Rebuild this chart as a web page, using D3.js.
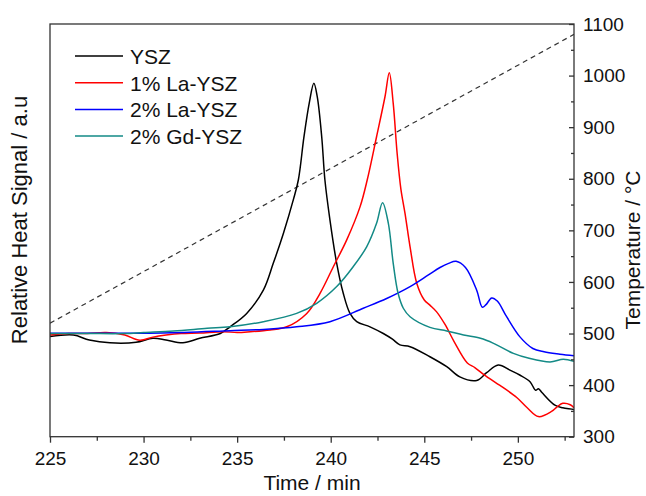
<!DOCTYPE html>
<html>
<head>
<meta charset="utf-8">
<script src="https://cdn.jsdelivr.net/npm/d3@7"></script>
<style>
  body { margin: 0; background: #fff; }
  svg { display: block; font-family: "Liberation Sans", Arial, sans-serif; }
</style>
</head>
<body>
<svg id="chart" width="646" height="496"></svg>
<script>
// DSC traces (heat signal in a.u., drawn on the same range as temperature)
const yszTime = [225, 226.25, 227.1, 228.2, 229.6, 230.5, 231.2, 232.1, 233.0, 234.1, 234.62, 235.51, 236.4, 236.93, 237.47, 238.0, 238.27, 238.57, 238.85, 239.1, 239.28, 239.52, 239.69, 239.96, 240.32, 240.67, 241.03, 241.39, 242.1, 242.81, 243.3, 243.7, 244.24, 245.3, 246.2, 246.9, 247.8, 248.33, 248.95, 249.58, 250.1, 250.65, 250.95, 251.1, 251.3, 251.98, 252.4, 252.96, 253];
const yszHeat = [494, 497, 487.5, 482, 483, 490.7, 487.5, 482, 490.7, 500, 513, 539, 584, 636, 694, 759, 797.6, 881, 946, 985, 959, 881, 797.6, 720, 636, 578, 539, 523, 513, 500, 489, 478, 474.5, 455, 435.7, 416, 409, 424, 439, 429, 419.6, 406.6, 390, 393, 385, 361, 356, 353, 352];

const la1Time = [225, 226, 227, 228, 229, 229.8, 230.5, 231.2, 232, 233, 234.25, 235, 235.7, 236.76, 237.65, 238.72, 239.43, 240.14, 240.85, 241.57, 241.95, 242.45, 242.9, 243.13, 243.34, 243.55, 243.75, 243.97, 244.24, 244.6, 245.0, 245.3, 245.66, 246.1, 246.6, 247.3, 247.7, 248.2, 249.1, 249.94, 250.5, 251.1, 251.8, 252.1, 252.4, 252.8, 253];
const la1Heat = [497, 500, 500, 502, 497, 487, 493, 497, 500, 501, 503.5, 502, 503.5, 507, 513, 539, 578, 629.5, 681, 746, 797.6, 881.5, 959, 1005.5, 946, 849, 780, 733, 668, 597, 565, 555, 542, 518, 484, 443, 434, 420, 398, 376, 356, 339, 349, 358, 364.7, 362, 356];

const la2Time = [225, 228, 231, 234.62, 236.4, 238.18, 239.96, 241.74, 242.99, 244.24, 245.2, 245.84, 246.3, 246.7, 247.2, 247.8, 248.1, 248.3, 248.6, 248.9, 249.4, 250.1, 250.8, 251.4, 252.25, 253];
const la2Heat = [500.6, 500.6, 501, 505.5, 508, 513, 523, 549, 568, 591, 613, 628, 636, 640, 628, 584, 551, 556, 569, 563, 532.6, 494, 471, 464.5, 460, 457];

const gd2Time = [225, 227, 229, 230, 231.6, 233.4, 234.62, 236.4, 238.18, 239.25, 240.32, 241.2, 241.92, 242.45, 242.77, 243.08, 243.34, 243.6, 243.88, 244.24, 245.3, 246.2, 247.1, 248.0, 248.7, 249.76, 250.6, 251.72, 252.43, 253];
const gd2Heat = [500, 500, 500, 502, 505, 510, 513, 523, 539, 558.6, 591, 629.5, 668, 713.6, 753.6, 713.6, 636, 578, 549, 532.6, 512, 505, 497, 490.7, 481, 461.6, 452, 445, 450, 446];

// furnace temperature ramp (dashed)
const rampTime = [225, 253];
const rampTemp = [520, 1080];

const seriesNames = ["YSZ", "1% La-YSZ", "2% La-YSZ", "2% Gd-YSZ"];
const seriesColors = ["#000000", "#ff0000", "#0000ff", "#138a86"];
const seriesTimes = [yszTime, la1Time, la2Time, gd2Time];
const seriesHeats = [yszHeat, la1Heat, la2Heat, gd2Heat];

const xMajorTicks = [225, 230, 235, 240, 245, 250];
const tempTicks = [300, 400, 500, 600, 700, 800, 900, 1000, 1100];

// layout
const margin = {top: 24, right: 72, bottom: 59.3, left: 50};
const width = 646 - margin.left - margin.right;
const height = 496 - margin.top - margin.bottom;

const svg = d3.select("#chart");
const g = svg.append("g").attr("transform", `translate(${margin.left},${margin.top})`);

const x = d3.scaleLinear().domain([225, 253]).range([0, width]);
const yTemp = d3.scaleLinear().domain([300, 1100]).range([height, 0]);
const yHeat = d3.scaleLinear().domain([300, 1100]).range([height, 0]);

const axisColor = "#333";

// clip to plot area
svg.append("defs").append("clipPath").attr("id", "clip")
    .append("rect").attr("width", width).attr("height", height);

const plot = g.append("g").attr("clip-path", "url(#clip)");

// temperature ramp
plot.append("path")
    .datum(rampTime.map((t, i) => [t, rampTemp[i]]))
    .attr("d", d3.line().x(d => x(d[0])).y(d => yTemp(d[1])))
    .style("fill", "none")
    .style("stroke", "#333")
    .style("stroke-width", 1.2)
    .style("stroke-dasharray", "5,4");

// heat traces
const heatLine = d3.line()
    .x(d => x(d[0]))
    .y(d => yHeat(d[1]))
    .curve(d3.curveCatmullRom.alpha(0.5));

seriesNames.forEach((name, i) => {
    const pts = seriesTimes[i].map((t, j) => [t, seriesHeats[i][j]]);
    plot.append("path")
        .datum(pts)
        .attr("d", heatLine)
        .style("fill", "none")
        .style("stroke", seriesColors[i])
        .style("stroke-width", 1.5);
});

// frame
g.append("rect")
    .attr("width", width).attr("height", height)
    .style("fill", "none")
    .style("stroke", axisColor)
    .style("stroke-width", 1.3);

// bottom axis, major + minor ticks
const xAxis = g.append("g")
    .attr("transform", `translate(0,${height})`)
    .call(d3.axisBottom(x).tickValues(xMajorTicks).tickSize(6).tickPadding(9).tickFormat(d3.format("d")));
xAxis.select(".domain").remove();
xAxis.selectAll("line").style("stroke", axisColor).style("stroke-width", 1.3);
xAxis.selectAll("text").style("font-size", "19px").style("fill", "#111");

const xMinor = g.append("g")
    .attr("transform", `translate(0,${height})`)
    .call(d3.axisBottom(x).tickValues(xMajorTicks.map(d => d + 2.5)).tickSize(4).tickFormat(""));
xMinor.select(".domain").remove();
xMinor.selectAll("line").style("stroke", axisColor).style("stroke-width", 1.3);

// right temperature axis, ticks pointing inward
const yAxis = g.append("g")
    .attr("transform", `translate(${width},0)`)
    .call(d3.axisRight(yTemp).tickValues(tempTicks).tickSize(-5).tickPadding(9).tickFormat(d3.format("d")));
yAxis.select(".domain").remove();
yAxis.selectAll("line").style("stroke", axisColor).style("stroke-width", 1.3);
yAxis.selectAll("text").style("font-size", "19px").style("fill", "#111");

const yMinor = g.append("g")
    .attr("transform", `translate(${width},0)`)
    .call(d3.axisRight(yTemp).tickValues(tempTicks.slice(0, -1).map(d => d + 50)).tickSize(-3).tickFormat(""));
yMinor.select(".domain").remove();
yMinor.selectAll("line").style("stroke", axisColor).style("stroke-width", 1.3);

// axis titles
svg.append("text")
    .attr("x", margin.left + width / 2)
    .attr("y", 490)
    .attr("text-anchor", "middle")
    .style("font-size", "21px")
    .style("fill", "#111")
    .text("Time / min");

svg.append("text")
    .attr("transform", "translate(27,220) rotate(-90)")
    .attr("text-anchor", "middle")
    .style("font-size", "22px")
    .style("fill", "#111")
    .text("Relative Heat Signal / a.u");

svg.append("text")
    .attr("transform", "translate(640,250) rotate(-90)")
    .attr("text-anchor", "middle")
    .style("font-size", "21px")
    .style("fill", "#111")
    .text("Temperature / °C");

// legend
const legend = svg.append("g").attr("transform", "translate(75,56)");
seriesNames.forEach((name, i) => {
    const row = legend.append("g").attr("transform", `translate(0,${i * 26.7})`);
    row.append("line")
        .attr("x1", 0).attr("x2", 48)
        .attr("y1", 0).attr("y2", 0)
        .style("stroke", seriesColors[i])
        .style("stroke-width", 1.5);
    row.append("text")
        .attr("x", 55)
        .attr("y", 8)
        .style("font-size", "21px")
        .style("fill", "#111")
        .text(name);
});
</script>
</body>
</html>
